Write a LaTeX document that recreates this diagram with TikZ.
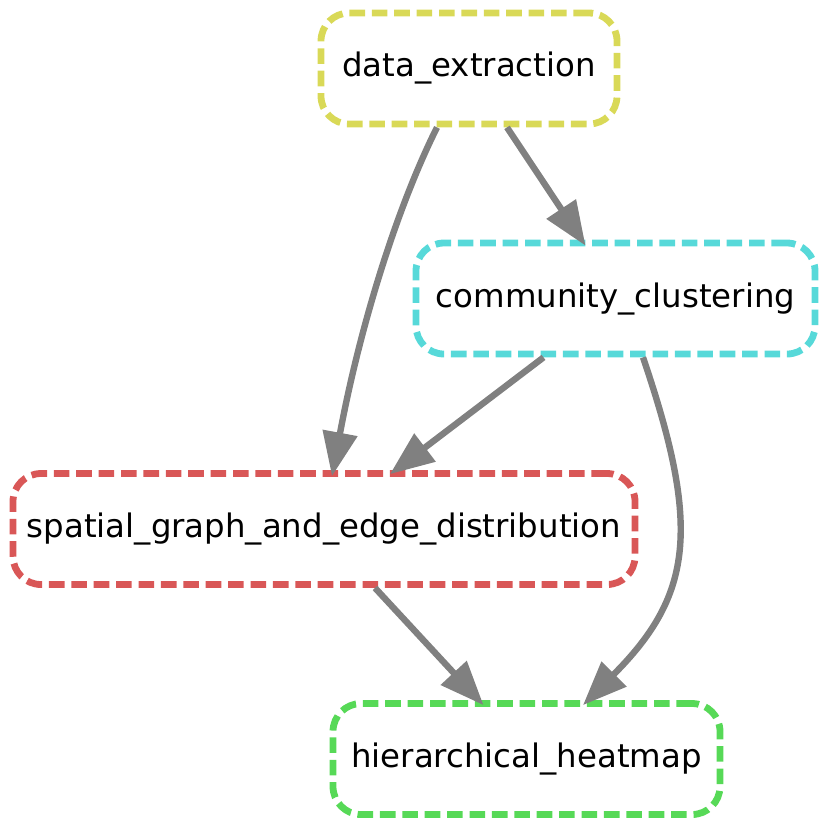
\documentclass[tikz,border=0pt]{standalone}
\usepackage{fontspec}
\setmainfont{DejaVu Sans}
\usepackage{tikz}
\usetikzlibrary{arrows.meta,calc}
\usepackage{xcolor}
\definecolor{ruleyellow}{RGB}{217,217,87}
\definecolor{rulecyan}{RGB}{87,217,217}
\definecolor{rulered}{RGB}{217,87,87}
\definecolor{rulegreen}{RGB}{87,217,87}

\begin{document}
\begin{tikzpicture}[x=0.5pt,y=-0.5pt,font=\fontsize{16.2}{19}\selectfont,
  rule/.style 2 args={draw=#1,line width=3.4pt,dash pattern=on 7.8pt off 3.4pt,
    rounded corners=14pt,minimum height=55.5pt,minimum width=#2,inner xsep=2pt},
  edge/.style={draw=gray,line width=3.2pt,-{Triangle[length=22pt,width=17pt]}}]
  \useasboundingbox (0,0) rectangle (830,827);

  \node[rule={ruleyellow}{148pt}] (data) at (469,68.5) {data\_extraction};
  \node[rule={rulecyan}{199.5pt}] (comm) at (615.5,298.5) {community\_clustering};
  \node[rule={rulered}{311pt}] (spatial) at (324,529) {spatial\_graph\_and\_edge\_distribution};
  \node[rule={rulegreen}{193.5pt}] (heat) at (526.5,759) {hierarchical\_heatmap};

  \draw[edge] ($(data.south)+(38,0)$) -- ($(comm.north)+(-30,6)$);
  \draw[edge] ($(data.south)+(-32,0)$)
    .. controls ($(data.south)+(-72,80)$) and ($(spatial.north)+(36,-144)$)
    .. ($(spatial.north)+(8,6)$);
  \draw[edge] ($(comm.south)+(-72,0)$) -- ($(spatial.north)+(66,4)$);
  \draw[edge] ($(spatial.south)+(51,0)$) -- ($(heat.north)+(-43,5)$);
  \draw[edge] ($(comm.south)+(27.5,0)$)
    .. controls ($(comm.south)+(85.5,170)$) and ($(heat.north)+(166.5,-105)$)
    .. ($(heat.north)+(56.5,5)$);
\end{tikzpicture}
\end{document}
